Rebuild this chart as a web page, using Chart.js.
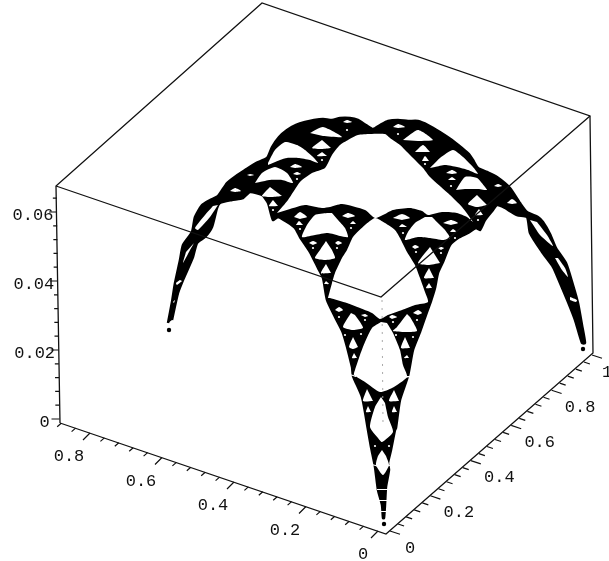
<!DOCTYPE html>
<html>
<head>
<meta charset="utf-8">
<style>
  html, body { margin: 0; padding: 0; background: #fff; }
  canvas { display: block; }
</style>
<script src="https://cdn.jsdelivr.net/npm/chart.js@4"></script>
</head>
<body>
<canvas id="chart" width="609" height="561"></canvas>
<script>
// tick values of the three axes
const leftMajor = [0, 0.2, 0.4, 0.6, 0.8];
const leftMinor = [0.04, 0.08, 0.12, 0.16, 0.24, 0.28, 0.32, 0.36, 0.44, 0.48, 0.52, 0.56, 0.64, 0.68, 0.72, 0.76, 0.84, 0.88];
const rightMajor = [0, 0.2, 0.4, 0.6, 0.8, 1];
const rightMinor = [0.04, 0.08, 0.12, 0.16, 0.24, 0.28, 0.32, 0.36, 0.44, 0.48, 0.52, 0.56, 0.64, 0.68, 0.72, 0.76, 0.84, 0.88, 0.92, 0.96];
const zMajor = [0, 0.02, 0.04, 0.06];
const zMinor = [0.004, 0.008, 0.012, 0.016, 0.024, 0.028, 0.032, 0.036, 0.044, 0.048, 0.052, 0.056, 0.064];
const leftLabels = ["0", "0.2", "0.4", "0.6", "0.8"];
const rightLabels = ["0", "0.2", "0.4", "0.6", "0.8", "1"];
const zLabels = ["0", "0.02", "0.04", "0.06"];

// box corners, in the flat plane of the picture
const boxTopBack = [262, 3];
const boxTopLeft = [56, 186];
const boxTopRight = [590, 116];
const boxInner = [381, 297];
const boxBottomLeft = [60, 423];
const boxBottomFront = [386, 534];
const boxBottomRight = [593, 353];

// gasket: outer contour, then the white parts
const outline = [[168,323],[172,302],[175,283],[180,260],[183,245],[192,232],[195,217],[202,205],[210,200],[218,196],[227,183],[236,176],[245,170],[256,163],[267,158],[272,147],[279,137],[287,130],[296,125],[305,122],[314,120],[323,119],[332,120],[340,118],[350,118],[358,120],[366,125],[373,129],[380,125],[388,121],[398,120],[408,121],[418,121],[428,125],[440,132],[452,140],[462,148],[469,154],[473,160],[478,168],[487,172],[497,177],[510,188],[520,203],[527,212],[538,217],[543,222],[550,234],[556,248],[566,263],[573,285],[578,303],[582,325],[585,343],[582,343],[575,320],[568,302],[560,283],[553,267],[542,252],[530,233],[527,217],[517,215],[503,207],[497,205],[493,210],[485,220],[480,230],[476,228],[468,233],[458,238],[450,245],[443,262],[438,273],[435,288],[431,301],[427,312],[420,332],[413,350],[408,376],[400,400],[396,428],[395,430],[391,450],[388,463],[389,470],[386,487],[385,505],[384,518],[383,518],[382,505],[378,490],[375,467],[371,447],[368,430],[362,397],[353,376],[352,367],[343,333],[335,317],[327,300],[323,278],[318,268],[310,252],[300,237],[295,228],[287,222],[278,217],[273,220],[268,203],[262,195],[250,192],[243,198],[232,200],[220,203],[217,208],[212,227],[205,237],[197,243],[193,257],[183,280],[178,293],[172,320]];

const bigHoles = [
  [[277,213],[288,200],[300,182],[312,173],[325,168],[332,155],[340,145],[348,140],[358,135],[370,134],[385,134],[390,138],[400,145],[410,155],[423,168],[430,177],[450,195],[462,207],[473,222],[467,217],[457,213],[442,212],[428,215],[422,211],[410,208],[393,210],[383,215],[375,218],[365,210],[342,204],[330,207],[322,208],[305,205],[290,209]],
  [[328,298],[332,283],[335,273],[342,258],[347,250],[353,237],[365,225],[375,218],[385,223],[395,230],[400,238],[407,252],[415,265],[420,278],[425,292],[428,302],[415,305],[402,310],[388,315],[380,319],[372,313],[360,308],[347,303],[330,298]],
  [[381,322],[372,328],[365,342],[360,355],[355,370],[354,375],[365,382],[380,392],[392,388],[407,377],[403,365],[400,350],[393,333],[387,323]],
  [[381,397],[375,407],[370,427],[378,438],[382,442],[393,432],[388,417],[385,403]],
  [[382,450],[378,456],[376,465],[383,475],[389,465],[386,456]]
];

const smallHoles = [
  // left part of the top
  [[268,163],[275,150],[285,142],[297,145],[305,150],[313,157],[318,163],[310,160],[298,158],[287,158],[280,160],[268,165]],
  [[255,183],[262,173],[275,167],[287,173],[293,183],[282,180],[270,180],[260,182]],
  [[230,191],[235,188],[241,191],[235,192]],
  [[247,175],[250,174],[254,175],[250,176]],
  [[290,167],[295,164],[302,167],[295,168]],
  [[293,174],[297,172],[301,174],[297,175]],
  [[270,187],[262,196],[272,197],[282,196]],
  [[273,200],[269,206],[278,206]],
  [[310,133],[323,127],[342,137],[323,136]],
  [[322,140],[312,148],[322,149],[331,148]],
  [[322,152],[317,156],[327,156]],
  [[343,122],[347,120],[352,122],[347,123]],
  // right part of the top
  [[430,168],[440,158],[453,150],[463,157],[473,167],[478,174],[468,170],[457,167],[445,165],[435,167]],
  [[456,190],[465,177],[477,178],[485,187],[487,190],[477,189],[465,189]],
  [[403,140],[418,130],[433,140],[418,141]],
  [[415,152],[423,145],[430,152]],
  [[422,161],[425,156],[429,161]],
  [[393,127],[398,124],[405,127],[398,128]],
  [[446,173],[452,170],[457,173],[452,174]],
  [[448,180],[452,177],[456,180]],
  [[477,195],[468,204],[477,207],[487,205]],
  [[479,209],[475,215],[483,215]],
  [[494,186],[498,184],[502,186],[498,187]],
  [[507,203],[512,199],[517,203],[512,204]],
  // upper left of the lower part
  [[327,213],[315,215],[307,225],[302,237],[315,235],[328,233],[340,236],[348,237],[345,228],[338,220],[332,213]],
  [[294,217],[300,212],[307,217],[300,219]],
  [[296,225],[299,221],[303,225]],
  [[342,216],[348,213],[355,216],[348,218]],
  [[350,224],[353,221],[356,224]],
  [[309,243],[313,241],[317,243],[313,245]],
  [[335,243],[338,241],[342,243],[338,245]],
  [[326,241],[320,250],[315,258],[325,260],[335,258],[332,250]],
  [[326,264],[321,273],[331,273]],
  [[326,281],[329,284],[324,284]],
  // upper right of the lower part
  [[425,217],[415,223],[408,232],[405,240],[418,237],[430,238],[443,240],[450,238],[445,230],[438,223],[432,217]],
  [[393,218],[402,214],[410,218],[402,220]],
  [[399,227],[402,224],[407,227]],
  [[443,223],[451,220],[458,223],[451,225]],
  [[450,232],[453,229],[457,232]],
  [[412,247],[415,245],[419,247],[415,249]],
  [[438,248],[441,247],[444,248],[441,250]],
  [[430,247],[418,263],[428,265],[440,263]],
  [[429,268],[424,278],[434,278]],
  [[429,283],[426,288],[432,288]],
  // tip part
  [[335,310],[339,307],[343,310],[339,312]],
  [[361,315],[365,314],[368,316],[365,317]],
  [[351,313],[343,327],[353,330],[363,328],[360,322],[355,315]],
  [[353,337],[349,347],[353,349],[358,347]],
  [[354,353],[352,358],[357,358]],
  [[413,313],[418,310],[422,313],[418,315]],
  [[389,317],[392,315],[397,317],[392,319]],
  [[407,314],[397,327],[393,331],[405,332],[417,331],[413,322],[410,317]],
  [[405,337],[401,348],[410,348]],
  [[407,355],[404,358],[409,358]],
  [[367,389],[363,401],[373,401]],
  [[394,390],[389,401],[399,401]],
  [[368,406],[366,412],[371,412]],
  [[394,406],[392,412],[397,412]]
];

const slits = [
  [[218,205],[210,217],[198,230],[195,228],[205,215],[213,206]],
  [[194,243],[189,252],[183,263],[186,252]],
  [[182,281],[177,285],[176,283],[180,280]],
  [[173,302],[175,300],[174,303]],
  [[530,220],[540,235],[553,246],[547,235],[537,222]],
  [[555,258],[562,270],[568,277],[565,268],[558,258]],
  [[570,297],[577,300],[576,302],[570,300]],
  [[350,374],[356,376],[356,377],[350,375]],
  [[404,376],[410,376],[410,377],[404,378]],
  [[372,464],[379,466],[379,467],[372,465]],
  [[386,466],[392,464],[392,465],[386,467]],
  [[377,489],[388,489],[388,490],[377,490]],
  [[379,500],[388,500],[388,501],[379,501]],
  [[380,511],[388,511],[388,512],[380,512]]
];

const holeDots = [[300,229],[351,228],[313,248],[337,248],[403,233],[455,238],[416,252],[441,253],[273,210],[297,179],[322,160],[347,130],[398,134],[425,164],[451,186],[478,220],[339,317],[365,320],[345,335],[361,334],[417,320],[393,322],[396,335],[413,337],[375,446],[389,446]];
const endDots = [[169,330],[583,349],[384,524]];
const faintEdge = [[382,300],[383,425]];

// where a tick value falls on each axis
function leftAt(v) { return [378 - 360 * v, 531 - 122.5 * v]; }
function rightAt(v) { return [390 + 202 * v, 531 - 176 * v]; }
function zAt(v) { return [59.5 - 41.6 * v, 419 - 3450 * v]; }

function toPoints(pairs) { return pairs.map(p => ({ x: p[0], y: p[1] })); }

function tickSegments(values, at, dx, dy) {
  const pts = [];
  values.forEach(v => {
    const p = at(v);
    pts.push({ x: p[0], y: p[1] }, { x: p[0] + dx, y: p[1] + dy }, { x: NaN, y: NaN });
  });
  return pts;
}

function lineSet(points, width, color) {
  return { data: points, borderColor: color || "#111", borderWidth: width, pointRadius: 0, fill: false, tension: 0, clip: false };
}
function shapeSet(pairs, color, width) {
  return { data: toPoints(pairs), borderWidth: width || 0, borderColor: color, backgroundColor: color, borderJoinStyle: "round", pointRadius: 0, fill: "shape", tension: 0.2, spanGaps: true, clip: false };
}
function dotSet(pairs, radius, color) {
  return { data: toPoints(pairs), showLine: false, pointRadius: radius, pointBackgroundColor: color, pointBorderWidth: 0, clip: false };
}

const boxPath = [boxBottomLeft, boxTopLeft, boxTopBack, boxTopRight, boxBottomRight, boxBottomFront, boxBottomLeft];
const datasets = [
  lineSet(toPoints(boxPath), 1.3),
  lineSet(toPoints([boxTopLeft, boxInner, boxTopRight]), 1.3),
  lineSet(tickSegments(leftMajor, leftAt, -7, 7), 1.2),
  lineSet(tickSegments(leftMinor, leftAt, -4, 3.5), 1.2),
  lineSet(tickSegments(rightMajor, rightAt, 10, 3.3), 1.2),
  lineSet(tickSegments(rightMinor, rightAt, 6, 2), 1.2),
  lineSet(tickSegments(zMajor, zAt, -8, 0), 1.2),
  lineSet(tickSegments(zMinor, zAt, -4, 0), 1.2),
  dotSet(endDots, 2.2, "#000"),
  Object.assign(lineSet(toPoints(faintEdge), 1, "#aaa"), { borderDash: [2, 6] }),
  dotSet(holeDots, 1.1, "#fff")
];
slits.concat(smallHoles, bigHoles).forEach(h => datasets.push(shapeSet(h, "#fff")));
datasets.push(shapeSet(outline, "#000", 2.5));

// tick labels, placed from the axis scales
const labelPlugin = {
  id: "tickText",
  afterDatasetsDraw(chart) {
    const { ctx, scales } = chart;
    ctx.save();
    ctx.fillStyle = "#111";
    ctx.font = '17px "Liberation Mono"';
    ctx.textAlign = "center";
    ctx.textBaseline = "middle";
    const put = (text, at, v, dx, dy) => {
      const p = at(v);
      ctx.fillText(text, scales.x.getPixelForValue(p[0] + dx), scales.y.getPixelForValue(p[1] + dy));
    };
    leftMajor.forEach((v, i) => put(leftLabels[i], leftAt, v, v === 0 ? -15 : -21, 23.5));
    rightMajor.forEach((v, i) => put(rightLabels[i], rightAt, v, v === 0 ? 20 : v === 1 ? 15 : 28.5, 17));
    zMajor.forEach((v, i) => put(zLabels[i], zAt, v, v === 0 ? -15 : -24, 3.5));
    ctx.restore();
  }
};

const chart = new Chart(document.getElementById("chart"), {
  type: "line",
  data: { datasets },
  plugins: [labelPlugin],
  options: {
    responsive: false,
    animation: false,
    events: [],
    layout: { padding: 0 },
    plugins: { legend: { display: false }, tooltip: { enabled: false } },
    scales: {
      x: { type: "linear", min: 0, max: 609, display: false },
      y: { type: "linear", min: 0, max: 561, reverse: true, display: false }
    }
  }
});

// the library keeps a small inset round the plot; narrow the ranges so one unit stays one pixel
const insetX = chart.chartArea.left;
const insetY = chart.chartArea.top;
chart.options.scales.x.min = insetX;
chart.options.scales.x.max = 609 - insetX;
chart.options.scales.y.min = insetY;
chart.options.scales.y.max = 561 - insetY;
chart.update();
</script>
</body>
</html>
